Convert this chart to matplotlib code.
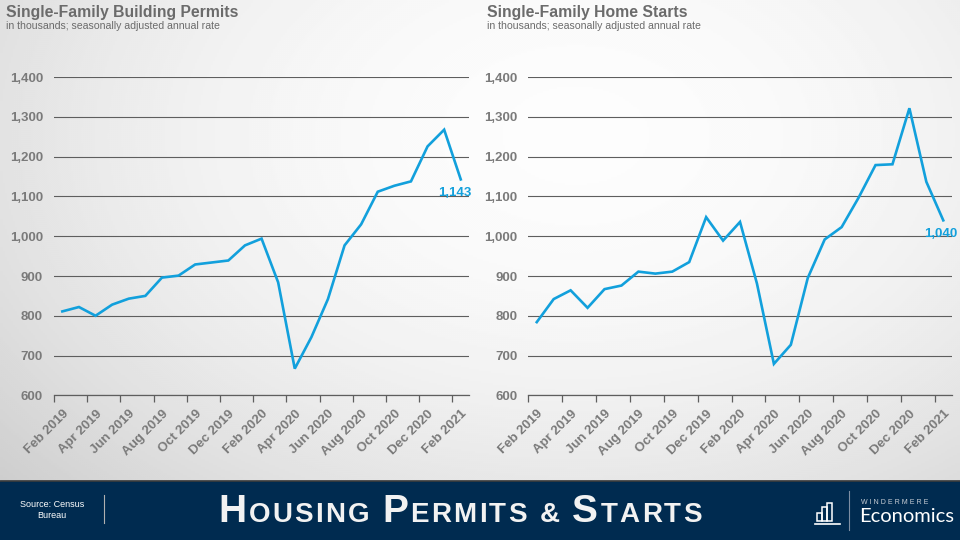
import numpy as np
import matplotlib
matplotlib.use("Agg")
import matplotlib.pyplot as plt

# monthly data, Feb 2019 .. Feb 2021 (thousands, SAAR)
months = ["Feb 2019", "Mar 2019", "Apr 2019", "May 2019", "Jun 2019", "Jul 2019",
          "Aug 2019", "Sep 2019", "Oct 2019", "Nov 2019", "Dec 2019", "Jan 2020",
          "Feb 2020", "Mar 2020", "Apr 2020", "May 2020", "Jun 2020", "Jul 2020",
          "Aug 2020", "Sep 2020", "Oct 2020", "Nov 2020", "Dec 2020", "Jan 2021",
          "Feb 2021"]
permits = [811, 822, 800, 828, 843, 850, 896, 901, 929, 934, 939, 977,
           994, 884, 667, 746, 842, 977, 1030, 1112, 1127, 1138, 1226, 1268, 1143]
starts = [784, 842, 864, 820, 867, 876, 911, 906, 911, 935, 1048, 989,
          1036, 881, 679, 727, 895, 992, 1023, 1097, 1179, 1181, 1322, 1137, 1040]
yticks = [600, 700, 800, 900, 1000, 1100, 1200, 1300, 1400]

BLUE = "#12a0dc"
GRAY_TXT = "#7a7a7a"
GRID = "#5e5e5e"
NAVY = "#002b50"

plt.rcParams['font.family'] = ['Liberation Sans', 'DejaVu Sans']

fig = plt.figure(figsize=(9.6, 5.4), dpi=100)

# background gradient (light centre, greyer edges)
bg = fig.add_axes([0, 0, 1, 1], zorder=-10)
gx, gy = np.meshgrid(np.linspace(0, 1, 480), np.linspace(0, 1, 270))
d2 = ((gx - 0.6) / 0.75) ** 2 + ((gy - 0.25) / 0.9) ** 2
shade = 0.99 - 0.16 * np.clip(d2, 0, 1.3)
bg.imshow(shade, cmap="gray", vmin=0, vmax=1, extent=[0, 1, 0, 1],
          aspect="auto", origin="upper", interpolation="bilinear")
bg.set_xlim(0, 1)
bg.set_ylim(0, 1)
bg.axis("off")

# bottom banner
bg.add_patch(plt.Rectangle((0, 0), 1, 59 / 540, color=NAVY, zorder=2))
bg.plot([0, 1], [59 / 540, 59 / 540], color="#3c3c3c", lw=1.2, zorder=3)


def draw_chart(rect, values, last_label, lbl_dx):
    ax = fig.add_axes(rect)
    ax.set_facecolor("none")
    x = np.arange(len(values))
    ax.plot(x, values, color=BLUE, lw=1.9, solid_joinstyle="miter", zorder=3)
    ax.set_xlim(-0.5, len(values) - 0.5)
    ax.set_ylim(600, 1400)
    ax.set_yticks(yticks)
    ax.set_yticklabels([f"{v:,}" for v in yticks])
    ax.grid(axis="y", color=GRID, lw=0.8)
    ax.set_axisbelow(True)
    for s in ["top", "right", "left"]:
        ax.spines[s].set_visible(False)
    ax.spines["bottom"].set_color(GRID)
    ax.spines["bottom"].set_linewidth(0.9)
    ax.tick_params(axis="y", length=0, pad=8, labelcolor=GRAY_TXT, labelsize=9.5)
    for t in ax.get_yticklabels():
        t.set_fontweight("bold")
    lbl_pos = x[::2]
    ax.set_xticks(lbl_pos)
    ax.set_xticklabels([months[i] for i in lbl_pos], rotation=45, ha="right",
                       va="top", rotation_mode="anchor", fontweight="bold")
    ax.tick_params(axis="x", which="major", length=0, pad=9,
                   labelcolor=GRAY_TXT, labelsize=9.5)
    ax.set_xticks(np.arange(-0.5, len(values), 2), minor=True)
    ax.tick_params(axis="x", which="minor", length=5, color=GRID, width=0.9)
    ax.annotate(last_label, (x[-1], values[-1]), xytext=(lbl_dx, -10),
                textcoords="offset points", ha="center", va="center",
                color=BLUE, fontsize=9.5, fontweight="bold")
    return ax


draw_chart([0.0563, 0.268, 0.4323, 0.589], permits, "1,143", -4)
draw_chart([0.5503, 0.268, 0.4411, 0.589], starts, "1,040", -2)

# chart titles
for x0, t in [(6 / 960, "Single-Family Building Permits"),
              (487 / 960, "Single-Family Home Starts")]:
    fig.text(x0, 1 - 12 / 540, t, fontsize=11.3, fontweight="bold",
             color="#6b6b6b", va="center", ha="left")
    fig.text(x0, 1 - 26 / 540, "in thousands; seasonally adjusted annual rate",
             fontsize=7.6, color="#6b6b6b", va="center", ha="left")

# banner contents
fig.text(52 / 960, 1 - 510 / 540, "Source: Census\nBureau", color="white",
         fontsize=6.5, ha="center", va="center", linespacing=1.2)
bg.plot([104 / 960, 104 / 960], [1 - 495 / 540, 1 - 523 / 540],
        color="#b0b0b0", lw=0.8, zorder=4)

# small-caps title, letter by letter with a little tracking
title = "Housing Permits & Starts"
base_y = 1 - 522 / 540
x_start, x_end = 218, 702
chars = []
for ch in title:
    big = ch.isupper()
    chars.append(fig.text(0, base_y, ch.upper(), fontsize=28 if big else 20,
                          fontweight="bold", color="#f2f2f2", ha="left",
                          va="baseline"))
fig.canvas.draw()
renderer = fig.canvas.get_renderer()
space_w = 8.0
widths = [space_w if t.get_text() == " " else t.get_window_extent(renderer).width
          for t in chars]
track = (x_end - x_start - sum(widths)) / (len(chars) - 1)
xcur = x_start
for t, w in zip(chars, widths):
    t.set_position((xcur / 960, base_y))
    xcur += w + track

# logo
lx = [817, 822, 827]
lh = [8, 14, 18]
for bx, h in zip(lx, lh):
    bg.add_patch(plt.Rectangle((bx / 960, 1 - 521 / 540), 4.5 / 960, h / 540,
                               fill=False, ec="white", lw=1.1, zorder=4))
bg.plot([815 / 960, 840 / 960], [1 - 523.5 / 540, 1 - 523.5 / 540],
        color="white", lw=1.2, zorder=4)
bg.plot([849 / 960, 849 / 960], [1 - 491 / 540, 1 - 530 / 540],
        color="#7d8ea3", lw=0.8, zorder=4)
fig.text(861 / 960, 1 - 502 / 540, "W I N D E R M E R E", color="#c8ced6",
         fontsize=5, ha="left", va="center")
fig.text(859 / 960, 1 - 517 / 540, "Economics", color="white", fontsize=14.5,
         ha="left", va="center", family=["Lato", "DejaVu Sans"])

fig.savefig("out.png", dpi=100)
